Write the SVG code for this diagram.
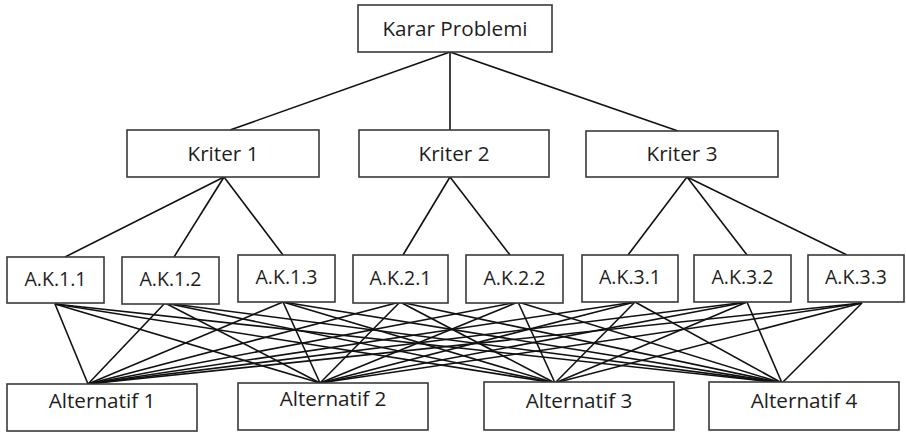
<svg xmlns="http://www.w3.org/2000/svg" width="906" height="432" viewBox="0 0 906 432">
<style>
.box{fill:#fff;stroke:#3a3a3a;stroke-width:1.6}
.t{font-family:"Open Sans","Liberation Sans",sans-serif;font-size:20.7px;fill:#1e1e1e;text-anchor:middle}
.s{font-size:19.5px}
.c line{stroke:#111;stroke-width:1.6}
</style>
<rect width="906" height="432" fill="#fff"/>
<g class="c" id="connectors">
<line x1="450" y1="52" x2="230" y2="130"/>
<line x1="450" y1="52" x2="450" y2="130"/>
<line x1="450" y1="52" x2="678" y2="131"/>
<line x1="224" y1="177" x2="65" y2="257"/>
<line x1="224" y1="177" x2="174" y2="257"/>
<line x1="224" y1="177" x2="283" y2="255"/>
<line x1="450" y1="177" x2="403" y2="255"/>
<line x1="450" y1="177" x2="510" y2="255"/>
<line x1="687" y1="177" x2="628" y2="255"/>
<line x1="687" y1="177" x2="747" y2="255"/>
<line x1="687" y1="177" x2="847" y2="255"/>
<line x1="55" y1="304" x2="88" y2="384"/><line x1="55" y1="304" x2="320" y2="383"/><line x1="55" y1="304" x2="555" y2="383"/><line x1="55" y1="304" x2="782" y2="383"/>
<line x1="165" y1="303" x2="88" y2="384"/><line x1="165" y1="303" x2="320" y2="383"/><line x1="165" y1="303" x2="555" y2="383"/><line x1="165" y1="303" x2="782" y2="383"/>
<line x1="283" y1="302" x2="88" y2="384"/><line x1="283" y1="302" x2="320" y2="383"/><line x1="283" y1="302" x2="555" y2="383"/><line x1="283" y1="302" x2="782" y2="383"/>
<line x1="400" y1="302" x2="88" y2="384"/><line x1="400" y1="302" x2="320" y2="383"/><line x1="400" y1="302" x2="555" y2="383"/><line x1="400" y1="302" x2="782" y2="383"/>
<line x1="518" y1="302" x2="88" y2="384"/><line x1="518" y1="302" x2="320" y2="383"/><line x1="518" y1="302" x2="555" y2="383"/><line x1="518" y1="302" x2="782" y2="383"/>
<line x1="635" y1="302" x2="88" y2="384"/><line x1="635" y1="302" x2="320" y2="383"/><line x1="635" y1="302" x2="555" y2="383"/><line x1="635" y1="302" x2="782" y2="383"/>
<line x1="747" y1="302" x2="88" y2="384"/><line x1="747" y1="302" x2="320" y2="383"/><line x1="747" y1="302" x2="555" y2="383"/><line x1="747" y1="302" x2="782" y2="383"/>
<line x1="862" y1="303" x2="88" y2="384"/><line x1="862" y1="303" x2="320" y2="383"/><line x1="862" y1="303" x2="555" y2="383"/><line x1="862" y1="303" x2="782" y2="383"/>
</g>
<g id="karar"><rect class="box" x="358" y="5" width="194" height="47"/><text class="t" x="455" y="36">Karar Problemi</text></g>
<g id="kriter1"><rect class="box" x="127" y="130" width="192" height="47"/><text class="t" x="223" y="161">Kriter 1</text></g>
<g id="kriter2"><rect class="box" x="359" y="130" width="190" height="47"/><text class="t" x="454" y="161">Kriter 2</text></g>
<g id="kriter3"><rect class="box" x="586" y="131" width="192" height="46"/><text class="t" x="682" y="161">Kriter 3</text></g>
<g id="ak11"><rect class="box" x="7" y="257" width="97" height="46"/><text class="t s" x="55.5" y="286">A.K.1.1</text></g>
<g id="ak12"><rect class="box" x="122" y="257" width="97" height="47"/><text class="t s" x="170.5" y="286">A.K.1.2</text></g>
<g id="ak13"><rect class="box" x="238" y="255" width="97" height="47"/><text class="t s" x="286.5" y="284">A.K.1.3</text></g>
<g id="ak21"><rect class="box" x="353" y="255" width="95" height="48"/><text class="t s" x="400.5" y="285">A.K.2.1</text></g>
<g id="ak22"><rect class="box" x="466" y="255" width="97" height="48"/><text class="t s" x="514.5" y="285">A.K.2.2</text></g>
<g id="ak31"><rect class="box" x="582" y="255" width="96" height="47"/><text class="t s" x="630" y="284">A.K.3.1</text></g>
<g id="ak32"><rect class="box" x="694" y="255" width="97" height="47"/><text class="t s" x="742.5" y="284">A.K.3.2</text></g>
<g id="ak33"><rect class="box" x="808" y="255" width="96" height="47"/><text class="t s" x="856" y="284">A.K.3.3</text></g>
<g id="alt1"><rect class="box" x="7" y="384" width="190" height="47"/><text class="t" x="102" y="408">Alternatif 1</text></g>
<g id="alt2"><rect class="box" x="238" y="383" width="190" height="47"/><text class="t" x="333" y="406">Alternatif 2</text></g>
<g id="alt3"><rect class="box" x="484" y="382" width="190" height="48"/><text class="t" x="579" y="408">Alternatif 3</text></g>
<g id="alt4"><rect class="box" x="709" y="382" width="190" height="48"/><text class="t" x="804" y="408">Alternatif 4</text></g>
</svg>
